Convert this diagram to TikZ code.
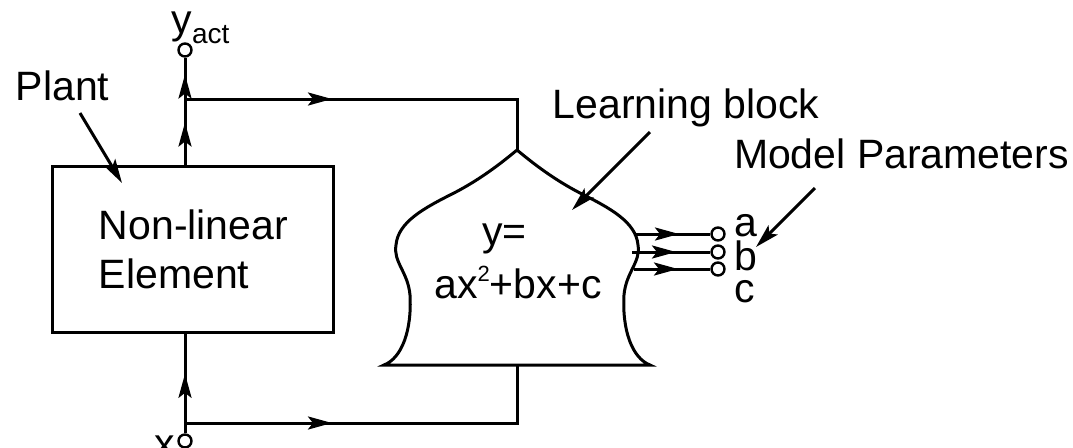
\documentclass[tikz,border=0pt]{standalone}
\usepackage{fontspec}
\setmainfont{Liberation Sans}
\usetikzlibrary{arrows.meta,decorations.markings}

\begin{document}
\begin{tikzpicture}[x=0.5pt, y=-0.5pt, line width=1.5pt,
    >={Stealth[length=12pt, width=6.5pt, inset=2.5pt]},
    every node/.style={font=\fontsize{20.5}{24.5}\selectfont, inner sep=0pt},
    plantbox/.style={draw, minimum width=140.5pt, minimum height=83pt, align=left},
    term/.style={circle, draw, fill=white, minimum size=6.5pt, line width=1.2pt},
    midarrow/.style={postaction={decorate, decoration={markings,
        mark=at position #1 with {\arrow{>}}}}}]
  \useasboundingbox (0,0) rectangle (1073,447);

  % plant
  \node[plantbox] (plant) at (193.4,249) {Non-linear\\Element};
  \node[term] (yact) at (185,50) {};
  \node[term] (xin) at (185,441) {};
  \coordinate (br) at (185,99);
  \coordinate (bin) at (185,423);

  % learning block
  \draw (650,365)
    .. controls (632,358) and (622,330) .. (624,295)
    .. controls (626,272) and (641,262) .. (638,245)
    .. controls (636,222) and (610,208) .. (580,193)
    .. controls (555,180) and (535,165) .. (517,150)
    .. controls (499,165) and (479,180) .. (454,193)
    .. controls (424,208) and (398,222) .. (396,245)
    .. controls (393,262) and (408,272) .. (410,295)
    .. controls (412,330) and (402,358) .. (384,365) -- cycle;
  \coordinate (dtop) at (517,150);
  \coordinate (dbot) at (517,365);
  \coordinate (tr) at (517,99);
  \coordinate (bl) at (517,423);
  \node[anchor=base] (eqy) at (504.5,245) {y=};
  \node[anchor=base] (eqpoly) at (518,298)
    {ax\raisebox{8.5pt}{\fontsize{11}{11}\selectfont 2}+bx+c};

  % signals
  \draw[midarrow=29.75pt] (xin) -- (xin |- plant.south);
  \draw[midarrow=21pt, midarrow=45pt] (plant.north -| yact) -- (yact);
  \draw[midarrow=73.5pt] (br) -- (tr) -- (dtop);
  \draw[midarrow=73.5pt] (bin) -- (bl) -- (dbot);

  % parameters
  \foreach \p/\ys/\xs/\yl in {a/234/635/236, b/252/632/270, c/269/634/302} {
    \coordinate (o\p) at (\xs,\ys);
    \node[term] (p\p) at (718,\ys) {};
    \draw[midarrow=22pt] (o\p) -- (p\p);
    \node[anchor=base west] (l\p) at (733,\yl) {\p};
  }

  % labels
  \node[anchor=base west] (ylbl) at (170,33)
    {y\raisebox{-5pt}{\fontsize{14}{14}\selectfont act}};
  \node[anchor=base west] (xlbl) at (153,457) {x};
  \node[anchor=base] (plantlbl) at (62.5,100) {Plant};
  \node[anchor=base] (learnlbl) at (686,118) {Learning block};
  \node[anchor=base] (modellbl) at (901.5,168) {Model Parameters};
  \coordinate (plantarr) at (80,113);
  \coordinate (plantpt) at (122,183);
  \coordinate (learnarr) at (650,132);
  \coordinate (learnpt) at (572,210);
  \coordinate (modelarr) at (815,188);
  \coordinate (modelpt) at (756,247);
  \draw[->] (plantarr) -- (plantpt);
  \draw[->] (learnarr) -- (learnpt);
  \draw[->] (modelarr) -- (modelpt);
\end{tikzpicture}
\end{document}
